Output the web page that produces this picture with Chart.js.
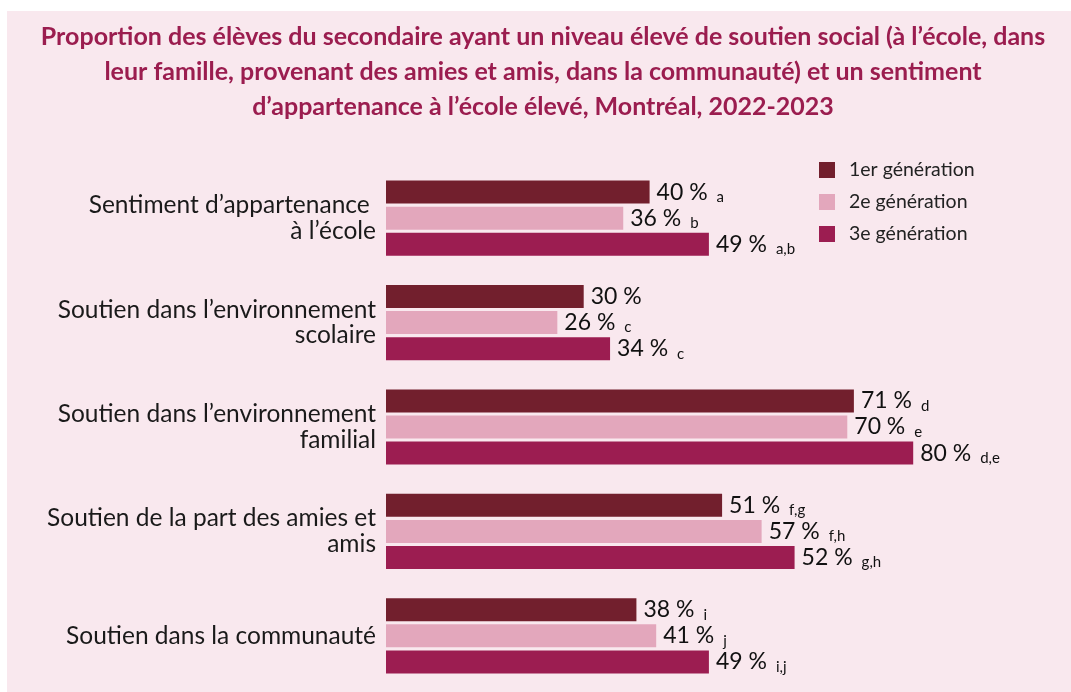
<!DOCTYPE html>
<html lang="fr">
<head>
    <meta charset="UTF-8">
    <title>Soutien social et sentiment d'appartenance</title>
    <script src="https://cdn.jsdelivr.net/npm/chart.js@4.4.0/dist/chart.umd.min.js"></script>
    <style>
        body {
            margin: 0;
            background: #ffffff;
        }
        .wrap {
            position: relative;
            width: 1071px;
            height: 692px;
        }
    </style>
</head>
<body>
    <div class="wrap">
        <canvas id="genChart" width="1071" height="692"></canvas>
    </div>

    <script>
        // categories (y axis)
        const categories = [
            ['Sentiment d\u2019appartenance ', '\u00e0 l\u2019\u00e9cole'],
            ['Soutien dans l\u2019environnement', 'scolaire'],
            ['Soutien dans l\u2019environnement', 'familial'],
            ['Soutien de la part des amies et', 'amis'],
            'Soutien dans la communaut\u00e9'
        ];
        const seriesNames = ['1er g\u00e9n\u00e9ration', '2e g\u00e9n\u00e9ration', '3e g\u00e9n\u00e9ration'];
        const titleLines = [
            'Proportion des \u00e9l\u00e8ves du secondaire ayant un niveau \u00e9lev\u00e9 de soutien social (\u00e0 l\u2019\u00e9cole, dans',
            'leur famille, provenant des amies et amis, dans la communaut\u00e9) et un sentiment',
            'd\u2019appartenance \u00e0 l\u2019\u00e9cole \u00e9lev\u00e9, Montr\u00e9al, 2022-2023'
        ];

        // bar lengths as drawn in the picture
        const gen1 = [40, 30, 71, 51, 38];
        const gen2 = [36, 26, 70, 57, 41];
        const gen3 = [49, 34, 80, 62, 49];   // 4th bar is drawn longer than its 52 % label

        // printed labels and significance letters
        const labels1 = ['40 %', '30 %', '71 %', '51 %', '38 %'];
        const labels2 = ['36 %', '26 %', '70 %', '57 %', '41 %'];
        const labels3 = ['49 %', '34 %', '80 %', '52 %', '49 %'];
        const notes1 = ['a', '', 'd', 'f,g', 'i'];
        const notes2 = ['b', 'c', 'e', 'f,h', 'j'];
        const notes3 = ['a,b', 'c', 'd,e', 'g,h', 'i,j'];

        const colors = ['#721f2d', '#e3a7bc', '#9c1d51'];
        const FONT = 'Lato, "Open Sans", sans-serif';

        const valueLabels = [labels1, labels2, labels3];
        const valueNotes = [notes1, notes2, notes3];

        // panel background + title
        const panelBg = {
            id: 'panelBg',
            beforeDraw(chart) {
                const ctx = chart.ctx;
                ctx.save();
                ctx.fillStyle = '#f9e8ee';
                ctx.fillRect(7, 11, chart.width - 7, chart.height - 11);
                ctx.fillStyle = '#9b1d4f';
                ctx.font = 'bold 25px ' + FONT;
                ctx.textAlign = 'center';
                ctx.textBaseline = 'middle';
                titleLines.forEach((line, i) => {
                    ctx.fillText(line, 543, 37 + i * 35);
                });
                ctx.restore();
            }
        };

        // value labels after each bar + legend
        const extras = {
            id: 'extras',
            afterDatasetsDraw(chart) {
                const ctx = chart.ctx;
                ctx.save();
                ctx.textBaseline = 'middle';
                chart.data.datasets.forEach((ds, di) => {
                    const meta = chart.getDatasetMeta(di);
                    meta.data.forEach((bar, i) => {
                        const x = bar.x + 7;
                        ctx.fillStyle = '#111111';
                        ctx.font = '23px ' + FONT;
                        ctx.textAlign = 'left';
                        const txt = valueLabels[di][i];
                        ctx.fillText(txt, x, bar.y);
                        const w = ctx.measureText(txt).width;
                        const note = valueNotes[di][i];
                        if (note) {
                            ctx.font = '15px ' + FONT;
                            ctx.fillText(note, x + w + 9, bar.y + 5);
                        }
                    });
                });

                // legend
                ctx.textAlign = 'left';
                ctx.font = '19.5px ' + FONT;
                seriesNames.forEach((name, i) => {
                    const y = 162 + i * 32;
                    ctx.fillStyle = colors[i];
                    ctx.fillRect(819, y, 16, 16);
                    ctx.fillStyle = '#222222';
                    ctx.fillText(name, 849, y + 8);
                });
                ctx.restore();
            }
        };

        const ctx = document.getElementById('genChart').getContext('2d');
        new Chart(ctx, {
            type: 'bar',
            data: {
                labels: categories,
                datasets: [
                    { label: seriesNames[0], data: gen1, backgroundColor: colors[0] },
                    { label: seriesNames[1], data: gen2, backgroundColor: colors[1] },
                    { label: seriesNames[2], data: gen3, backgroundColor: colors[2] }
                ]
            },
            options: {
                indexAxis: 'y',
                responsive: false,
                animation: false,
                layout: {
                    padding: { left: 0, right: 26, top: 166, bottom: 4 }
                },
                datasets: {
                    bar: {
                        categoryPercentage: 0.75,
                        barPercentage: 0.88
                    }
                },
                scales: {
                    x: {
                        display: false,
                        min: 0,
                        max: 100
                    },
                    y: {
                        grid: { display: false, drawTicks: false },
                        border: { display: false },
                        afterFit(scale) {
                            scale.width = 386;
                            scale.paddingTop = 0;
                            scale.paddingBottom = 0;
                        },
                        ticks: {
                            padding: 10,
                            color: '#1a1a1a',
                            font: { family: FONT, size: 24.5, lineHeight: 1.05 }
                        }
                    }
                },
                plugins: {
                    legend: { display: false },
                    tooltip: { enabled: false },
                    title: { display: false }
                }
            },
            plugins: [panelBg, extras]
        });
    </script>
</body>
</html>
